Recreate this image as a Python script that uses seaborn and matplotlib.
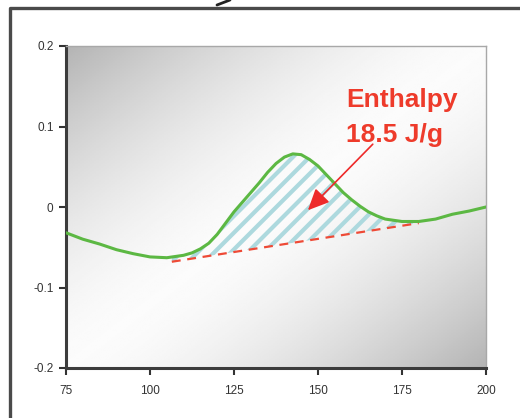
import numpy as np
import pandas as pd
import matplotlib
matplotlib.use("Agg")
import matplotlib.pyplot as plt
from matplotlib.lines import Line2D
import seaborn as sns

# ---- data ----
temperature = [75, 80, 85, 90, 95, 100, 105, 110, 112.5, 115, 117.5, 120, 122.5,
               125, 127.5, 130, 132.5, 135, 137.5, 140, 142.5, 145, 147.5, 150,
               152.5, 155, 157.5, 160, 162.5, 165, 167.5, 170, 175, 180, 185,
               190, 195, 200]
heat_flow = [-0.032, -0.040, -0.046, -0.053, -0.058, -0.062, -0.063, -0.060, -0.057,
             -0.052, -0.045, -0.034, -0.020, -0.006, 0.006, 0.018, 0.030, 0.043,
             0.054, 0.062, 0.066, 0.065, 0.059, 0.051, 0.040, 0.029, 0.018, 0.009,
             0.001, -0.006, -0.011, -0.015, -0.018, -0.018, -0.015, -0.009, -0.005,
             0.000]
baseline_x = [106.5, 180.0]
baseline_y = [-0.068, -0.020]
x_ticks = [75, 100, 125, 150, 175, 200]
y_ticks = [0.2, 0.1, 0, -0.1, -0.2]
y_tick_labels = ["0.2", "0.1", "0", "-0.1", "-0.2"]
label_lines = ["Enthalpy", "18.5 J/g"]

df = pd.DataFrame({"T": temperature, "Q": heat_flow})

sns.set_style("ticks")
plt.rcParams["font.family"] = ["Liberation Sans", "DejaVu Sans"]
plt.rcParams["hatch.linewidth"] = 3.0
plt.rcParams["hatch.color"] = "#add9de"

fig = plt.figure(figsize=(5.2, 4.18), dpi=100)
fig.patch.set_facecolor("white")
ax = fig.add_axes([66 / 520, 1 - 368 / 418, (486 - 66) / 520, (368 - 46) / 418])

# gradient background
n = 200
c = np.linspace(0, 1, n)
r = np.linspace(0, 1, n)
C, R = np.meshgrid(c, r)
d = (C + R) / 2.0
val = 0.985 - 0.28 * (np.abs(d - 0.5) / 0.5) ** 1.6
ax.imshow(val, cmap="gray", vmin=0, vmax=1, extent=[75, 200, -0.2, 0.2],
          aspect="auto", origin="upper", zorder=0, interpolation="bilinear")

# hatched enthalpy area
xs = np.array(temperature, dtype=float)
mask = (xs >= baseline_x[0]) & (xs <= baseline_x[1])
xf = np.concatenate([[baseline_x[0]], xs[mask], [baseline_x[1]]])
yf = np.interp(xf, temperature, heat_flow)
bf = np.interp(xf, baseline_x, baseline_y)
ax.fill_between(xf, bf, yf, where=yf >= bf, interpolate=True,
                facecolor="none", edgecolor="#add9de", hatch="//", linewidth=0, zorder=2)

# baseline
ax.plot(baseline_x, baseline_y, color="#ee4a36", lw=1.6, ls=(0, (4, 3)), zorder=3)

# curve
sns.lineplot(data=df, x="T", y="Q", ax=ax, color="#5cb843", lw=2.2, zorder=4)

# arrow + label
ax.annotate("", xy=(147.0, -0.004), xytext=(166.3, 0.078),
            arrowprops=dict(arrowstyle="-|>,head_length=1.3,head_width=0.6",
                            color="#ee2a2a", lw=1.2, shrinkA=0, shrinkB=0), zorder=5)
ax.text(158.3, 0.124, label_lines[0], color="#ee3b2b", fontsize=19, fontweight="bold",
        ha="left", va="baseline", zorder=6)
ax.text(158.3, 0.081, label_lines[1], color="#ee3b2b", fontsize=19, fontweight="bold",
        ha="left", va="baseline", zorder=6)

ax.set_xlim(75, 200)
ax.set_ylim(-0.2, 0.2)
ax.set_xticks(x_ticks)
ax.set_yticks(y_ticks)
ax.set_yticklabels(y_tick_labels)
ax.set_xlabel("")
ax.set_ylabel("")
ax.tick_params(axis="both", labelsize=8.5, colors="#333333", length=5, width=1.5,
               direction="out", pad=4)
ax.tick_params(axis="x", pad=7)

for s in ["left", "bottom"]:
    ax.spines[s].set_color("#3c3c3c")
    ax.spines[s].set_linewidth(2.2)
for s in ["top", "right"]:
    ax.spines[s].set_color("#a8a8a8")
    ax.spines[s].set_linewidth(1.0)
    ax.spines[s].set_visible(True)

# outer frame
fig.add_artist(Line2D([9.5 / 520, 9.5 / 520, 1.0], [0.0, 1 - 8 / 418, 1 - 8 / 418],
                      transform=fig.transFigure, color="#4a4a4a", lw=2.4))
fig.add_artist(Line2D([217 / 520, 230 / 520], [1 - 5 / 418, 1.0],
                      transform=fig.transFigure, color="#222222", lw=2.0))

fig.savefig("out.png", dpi=100, facecolor="white")
